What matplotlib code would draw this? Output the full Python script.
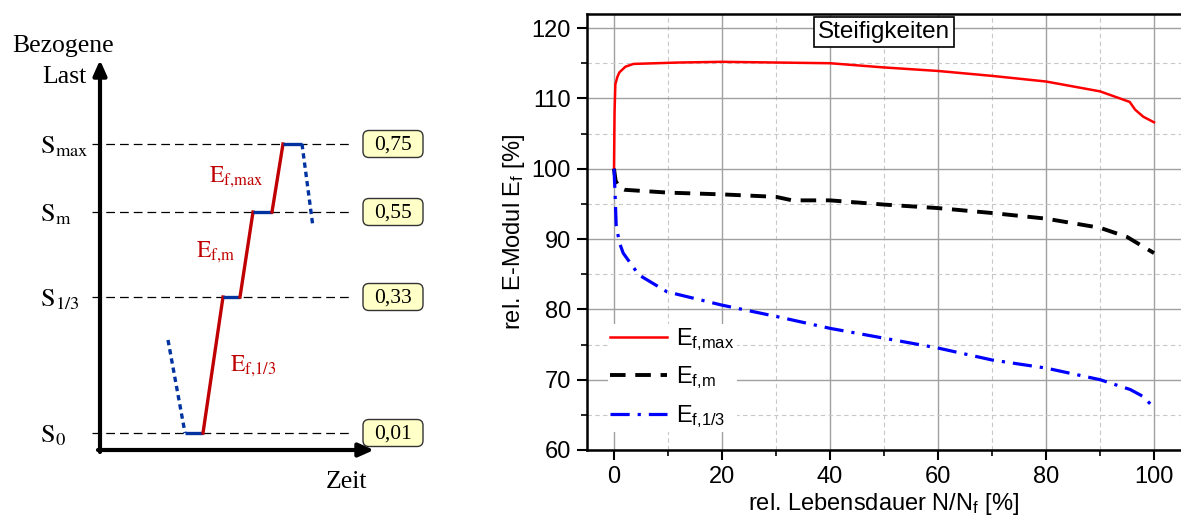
import matplotlib
matplotlib.use('Agg')
import matplotlib.pyplot as plt
from matplotlib.patches import FancyBboxPatch
from matplotlib.ticker import MultipleLocator

plt.rcParams['font.family'] = ['Liberation Sans', 'DejaVu Sans']
plt.rcParams['mathtext.fontset'] = 'custom'
plt.rcParams['mathtext.rm'] = 'Liberation Sans'
plt.rcParams['mathtext.it'] = 'Liberation Sans:italic'

# ---- right chart data ----
n_max = [0, 0.1, 0.25, 0.6, 1, 2.1, 3.6, 12, 20, 30, 40, 50, 60, 70, 80, 90, 95.5, 96.5, 98, 100]
e_max = [100, 108, 112.0, 113.0, 113.7, 114.5, 114.9, 115.1, 115.2, 115.1, 115.0, 114.4, 113.9,
         113.2, 112.4, 111.0, 109.5, 108.4, 107.4, 106.6]
n_m = [0, 0.3, 1, 2, 10, 20, 30, 33, 40, 50, 60, 70, 80, 90, 95, 100]
e_m = [100, 98.3, 97.3, 97.0, 96.6, 96.35, 96.0, 95.5, 95.5, 94.9, 94.4, 93.7, 92.9, 91.6, 90.3, 88.0]
n_13 = [0, 0.2, 0.4, 1, 1.7, 4.6, 9.8, 20, 30, 40, 50, 60, 70, 80, 90, 95.6, 98, 100]
e_13 = [100, 96.5, 92, 89.5, 88, 84.9, 82.5, 80.6, 79.0, 77.3, 75.9, 74.5, 72.8, 71.65, 70.0,
        68.6, 67.6, 66.0]
legend_labels = [r'E$_{\mathrm{f{,}max}}$', r'E$_{\mathrm{f{,}m}}$', r'E$_{\mathrm{f{,}1/3}}$']

# ---- left schematic data ----
level_names = [r'$\mathrm{S}_{0}$', r'$\mathrm{S}_{1/3}$', r'$\mathrm{S}_{\mathrm{m}}$', r'$\mathrm{S}_{\mathrm{max}}$']
level_values = ['0,01', '0,33', '0,55', '0,75']
level_y = [433, 297, 212, 144]
hold_x = [(185, 203), (223, 240), (253, 272), (283, 302)]
ramp_names = [r'$\mathrm{E}_{\mathrm{f{,}1/3}}$', r'$\mathrm{E}_{\mathrm{f{,}m}}$', r'$\mathrm{E}_{\mathrm{f{,}max}}$']
ramp_label_pos = [(230, 371), (196, 257), (209, 182)]
unload_start = (168, 340)
unload_end = (313, 227)

red = '#c00000'
blue = '#0033a0'

fig = plt.figure(figsize=(11.81, 5.17), dpi=100)

# ---------------- left schematic ----------------
ax0 = fig.add_axes([0, 0, 449 / 1181, 1])
ax0.set_xlim(0, 449)
ax0.set_ylim(517, 0)
ax0.axis('off')

serif = dict(family='Liberation Serif', math_fontfamily='stix')

for name, val, y in zip(level_names, level_values, level_y):
    ax0.plot([92, 353], [y, y], color='black', lw=0.9, dashes=(7, 4))
    ax0.text(40, y + 9, name, fontsize=19, va='baseline', ha='left', **serif)
    box = FancyBboxPatch((363, y - 13.5), 60, 27, boxstyle='round,pad=0,rounding_size=6',
                         facecolor='#ffffc8', edgecolor='#333333', lw=1.0)
    ax0.add_patch(box)
    ax0.text(393, y + 1, val, fontsize=15.5, ha='center', va='center', **serif)

# load path
ax0.plot([unload_start[0], hold_x[0][0]], [unload_start[1], level_y[0]],
         color=blue, lw=2.4, dashes=(1.6, 1.2))
for i, (x0, x1) in enumerate(hold_x):
    ax0.plot([x0, x1], [level_y[i], level_y[i]], color=blue, lw=2.4, solid_capstyle='butt')
    if i < len(hold_x) - 1:
        ax0.plot([x1, hold_x[i + 1][0]], [level_y[i], level_y[i + 1]], color=red, lw=2.4)
ax0.plot([hold_x[-1][1], unload_end[0]], [level_y[-1], unload_end[1]],
         color=blue, lw=2.4, dashes=(1.6, 1.2))

for name, (x, y) in zip(ramp_names, ramp_label_pos):
    ax0.text(x, y, name, fontsize=17, color=red, va='baseline', ha='left', **serif)

# axes arrows
ax0.annotate('', xy=(100, 60), xytext=(100, 452),
             arrowprops=dict(arrowstyle='-|>,head_length=0.9,head_width=0.4', color='black', lw=3,
                             shrinkA=0, shrinkB=0))
ax0.annotate('', xy=(374, 450), xytext=(98, 450),
             arrowprops=dict(arrowstyle='-|>,head_length=0.9,head_width=0.4', color='black', lw=3,
                             shrinkA=0, shrinkB=0))
ax0.text(12, 52, 'Bezogene', fontsize=18.5, va='baseline', ha='left', **serif)
ax0.text(42, 83, 'Last', fontsize=18.5, va='baseline', ha='left', **serif)
ax0.text(326, 488, 'Zeit', fontsize=18.5, va='baseline', ha='left', **serif)

# ---------------- right chart ----------------
ax = fig.add_axes([587 / 1181, 67 / 517, 1 - 587 / 1181, (450 - 14) / 517])
ax.plot(n_max, e_max, color='red', lw=1.8, label=legend_labels[0])
ax.plot(n_m, e_m, color='black', lw=2.8, dashes=(4, 2.5), label=legend_labels[1])
ax.plot(n_13, e_13, color='blue', lw=2.3, dashes=(6, 2.5, 1, 2.5), label=legend_labels[2])

ax.set_xlim(-5, 105)
ax.set_ylim(60, 122)
ax.xaxis.set_major_locator(MultipleLocator(20))
ax.xaxis.set_minor_locator(MultipleLocator(10))
ax.yaxis.set_major_locator(MultipleLocator(10))
ax.yaxis.set_minor_locator(MultipleLocator(5))
ax.grid(which='major', color='#a0a0a0', lw=1.0)
ax.grid(which='minor', color='#c8c8c8', lw=0.8, ls=(0, (4, 3)))
ax.set_axisbelow(True)
ax.tick_params(which='major', direction='out', length=7, width=1.5, labelsize=17, pad=4.5)
ax.tick_params(which='minor', direction='out', length=4, width=1.2)
for s in ['left', 'bottom', 'top']:
    ax.spines[s].set_linewidth(1.8)
ax.spines['right'].set_visible(False)

ax.set_xlabel(r'rel. Lebensdauer N/N$_{\mathrm{f}}$ [%]', fontsize=17, labelpad=2)
ax.set_ylabel(r'rel. E-Modul E$_{\mathrm{f}}$ [%]', fontsize=17, labelpad=3)

ax.text(50, 119.45, 'Steifigkeiten', fontsize=17.5, ha='center', va='center',
        bbox=dict(boxstyle='square,pad=0.17', facecolor='white', edgecolor='black', lw=1.2))

leg = ax.legend(loc='upper left', bbox_to_anchor=(0.035, 0.29), fontsize=17, frameon=True,
                framealpha=1, edgecolor='none', handlelength=2.4, handletextpad=0.4,
                labelspacing=0.5, borderaxespad=0, borderpad=0.1)
leg.get_frame().set_linewidth(0)

fig.savefig('out.png', dpi=100)
